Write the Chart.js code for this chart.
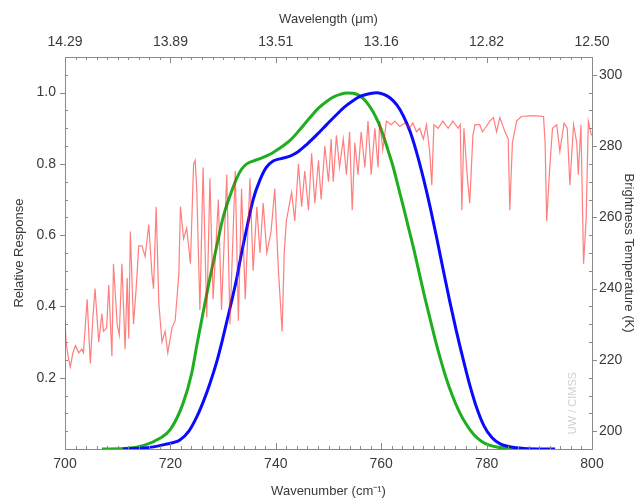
<!DOCTYPE html>
<html>
<head>
<meta charset="utf-8">
<script src="https://cdn.jsdelivr.net/npm/chart.js@4/dist/chart.umd.min.js"></script>
<style>
  html, body { margin: 0; padding: 0; background: #fff; }
  #wrap { width: 643px; height: 501px; }
</style>
</head>
<body>
<div id="wrap"><canvas id="srfChart" width="643" height="501"></canvas></div>
<script>
// ticks
const xTicks = [700, 720, 740, 760, 780, 800];
const wavelengthLabels = ["14.29", "13.89", "13.51", "13.16", "12.82", "12.50"];
const responseTicks = [0.2, 0.4, 0.6, 0.8, 1.0];
const tempTicks = [200, 220, 240, 260, 280, 300];

// green response curve
const greenWn = [707, 712, 715, 718, 720, 722.4, 724, 725, 726.3, 727.5, 728.8, 730, 731.3, 732.6, 733.5, 734.5,
  735.7, 737, 738.9, 740.5, 742.7, 744.5, 746.5, 748, 749.7, 751, 752.2, 753.5, 754.7, 755.7, 756.6, 757.5,
  758.5, 759.5, 760.4, 761.3, 762.3, 763.2, 764.2, 765.2, 766.2, 767.2, 768.2, 769.2, 770.2, 771.2, 772.3,
  773.5, 774.8, 776.2, 777.6, 779, 780.5, 782.5, 785, 787];
const greenResp = [0, 0.002, 0.01, 0.03, 0.055, 0.128, 0.21, 0.29, 0.39, 0.48, 0.57, 0.65, 0.71, 0.76, 0.785, 0.8,
  0.808, 0.815, 0.827, 0.842, 0.866, 0.895, 0.93, 0.955, 0.976, 0.988, 0.995, 0.999, 0.998, 0.993, 0.983, 0.968,
  0.945, 0.915, 0.88, 0.838, 0.79, 0.738, 0.68, 0.62, 0.56, 0.495, 0.43, 0.37, 0.31, 0.255, 0.2,
  0.15, 0.105, 0.068, 0.04, 0.022, 0.011, 0.004, 0.001, 0];

// blue response curve
const blueWn = [711, 714, 716.8, 719, 721.8, 723.5, 725, 726.3, 727.5, 728.8, 730, 731.3, 732.6, 733.5, 734.5,
  735.7, 737, 738.2, 739.5, 741, 742.7, 744.3, 745.9, 747.8, 749.7, 751.3, 752.9, 754.5, 756.1, 757.7, 759.3,
  760.5, 761.7, 763, 764.2, 765.5, 766.7, 768, 769.3, 770.5, 771.8, 773, 774.2, 775.5, 776.8, 778.2, 779.5,
  781, 782.5, 785, 788, 793];
const blueResp = [0, 0.002, 0.006, 0.013, 0.025, 0.05, 0.09, 0.135, 0.184, 0.245, 0.314, 0.395, 0.48, 0.55, 0.62,
  0.7, 0.755, 0.79, 0.808, 0.815, 0.822, 0.835, 0.855, 0.882, 0.911, 0.935, 0.958, 0.976, 0.99, 0.997, 1.0,
  0.995, 0.985, 0.965, 0.935, 0.89, 0.833, 0.76, 0.678, 0.595, 0.5, 0.415, 0.335, 0.255, 0.18, 0.112, 0.065,
  0.032, 0.015, 0.005, 0.001, 0];

// red brightness temperature spectrum (K)
const specWn = [700.0, 700.2, 700.6, 701.0, 701.5, 702.0, 702.6, 703.2, 703.5, 704.2, 704.8, 705.3, 705.7, 706.4,
  707.0, 707.3, 707.9, 708.3, 708.9, 709.2, 709.9, 710.3, 710.8, 711.4, 711.8, 712.1, 712.4, 713.0, 713.5,
  714.0, 714.6, 715.2, 715.9, 716.5, 716.8, 717.3, 717.8, 718.4, 719.0, 719.5, 720.3, 720.9, 721.6, 721.9,
  722.5, 723.1, 723.8, 724.4, 724.7, 725.0, 725.6, 726.2, 726.9, 727.5, 728.1, 729.1, 729.7, 730.7, 731.3,
  732.3, 732.9, 733.5, 734.2, 735.1, 735.7, 736.4, 737.0, 737.6, 738.3, 739.1, 739.8, 740.5, 741.2, 741.6,
  742.0, 743.0, 743.6, 744.3, 744.9, 745.5, 746.2, 746.8, 747.4, 748.1, 748.6, 749.3, 750.0, 750.5, 750.9,
  751.5, 752.1, 752.8, 753.4, 754.0, 754.5, 755.0, 755.6, 756.2, 756.9, 757.5, 758.1, 758.8, 759.4, 759.7,
  760.3, 761.0, 761.9, 762.6, 763.5, 764.5, 765.4, 766.0, 766.7, 767.3, 768.0, 768.6, 769.2, 769.6, 770.0,
  770.8, 771.7, 772.7, 773.6, 774.6, 775.0, 775.3, 775.7, 776.3, 776.8, 777.4, 777.8, 778.7, 779.2, 779.7,
  780.6, 781.3, 781.9, 782.5, 783.5, 784.1, 784.4, 784.9, 785.7, 786.6, 788.0, 789.5, 790.8, 791.1, 791.4,
  791.9, 792.5, 793.3, 793.9, 794.7, 795.3, 795.8, 796.5, 797.1, 797.4, 797.9, 798.4, 798.9, 799.3, 799.9];
const specTemp = [231, 225, 221, 218, 222, 224, 222, 223, 222, 237, 219, 232, 240, 225,
  233, 228, 229, 241, 221, 247, 230, 227, 247, 223, 243, 226, 256, 230, 240,
  252, 252, 249, 258, 244, 240, 263, 236, 225, 228, 222, 229, 231, 244, 263,
  254, 257, 247, 275, 276, 268, 234, 274, 232, 271, 237, 265, 234, 272, 230,
  273, 231, 268, 237, 271, 245, 263, 250, 264, 250, 256, 268, 245, 228, 250,
  259, 267, 259, 275, 263, 273, 262, 278, 264, 276, 265, 280, 270, 282, 270,
  283, 274, 282, 272, 284, 262, 281, 272, 284, 274, 287, 272, 285, 274, 287,
  279, 287, 286, 287, 285.5, 286.5, 285, 286.5, 284, 285, 282, 286, 278.5, 269, 286,
  285, 287, 285, 287, 285, 286, 262, 285, 272, 264, 283, 286, 286, 284, 285,
  287, 288, 284, 288, 284, 282, 262, 281, 287, 288.3, 288.5, 288.5, 288.3, 281, 259,
  272, 285, 286, 278.5, 286.4, 285, 269, 286, 281, 272, 286, 247, 260, 287, 283];

const toPoints = (xs, ys) => xs.map((x, i) => ({ x: x, y: ys[i] }));

// ticks dentro del marco + marca de agua
const framePlugin = {
  id: "frameTicks",
  afterDraw(chart) {
    const { ctx, chartArea: a, scales } = chart;
    ctx.save();
    ctx.strokeStyle = "#8a8a8a";
    ctx.lineWidth = 1;
    ctx.beginPath();
    for (let v = 700; v <= 800; v += 2) {
      const x = Math.round(scales.x.getPixelForValue(v)) + 0.5;
      const len = v % 20 === 0 ? 6 : 3;
      ctx.moveTo(x, a.bottom); ctx.lineTo(x, a.bottom - len);
      ctx.moveTo(x, a.top); ctx.lineTo(x, a.top + len);
    }
    for (let i = 1; i <= 22; i++) {
      const y = Math.round(scales.y.getPixelForValue(i * 0.05)) + 0.5;
      if (i % 4 === 0) {
        ctx.moveTo(a.left, y); ctx.lineTo(a.left - 5, y);
      } else {
        ctx.moveTo(a.left, y); ctx.lineTo(a.left + 3, y);
      }
    }
    for (let t = 195; t <= 305; t += 5) {
      const y = Math.round(scales.y2.getPixelForValue(t)) + 0.5;
      if (t % 20 === 0) {
        ctx.moveTo(a.right, y); ctx.lineTo(a.right + 5, y);
      } else {
        ctx.moveTo(a.right, y); ctx.lineTo(a.right - 3, y);
      }
    }
    ctx.stroke();

    ctx.translate(573, 403);
    ctx.rotate(-Math.PI / 2);
    ctx.fillStyle = "#cfcfcf";
    ctx.font = "11px 'Liberation Sans', Arial, sans-serif";
    ctx.textAlign = "center";
    ctx.textBaseline = "middle";
    ctx.fillText("UW / CIMSS", 0, 0);
    ctx.restore();
  }
};

const tickFont = { family: "'Liberation Sans', Arial, sans-serif", size: 14 };
const titleFont = { family: "'Liberation Sans', Arial, sans-serif", size: 13 };
const border = { display: true, color: "#8a8a8a", width: 1 };

const ctx = document.getElementById("srfChart").getContext("2d");
new Chart(ctx, {
  type: "line",
  data: {
    datasets: [
      {
        label: "Brightness Temperature",
        data: toPoints(specWn, specTemp),
        borderColor: "rgba(255, 20, 20, 0.55)",
        borderWidth: 1.2,
        pointRadius: 0,
        tension: 0,
        yAxisID: "y2"
      },
      {
        label: "SRF 2",
        data: toPoints(blueWn, blueResp),
        borderColor: "#0a0aff",
        borderWidth: 3,
        pointRadius: 0,
        cubicInterpolationMode: "monotone",
        yAxisID: "y"
      },
      {
        label: "SRF 1",
        data: toPoints(greenWn, greenResp),
        borderColor: "#1fae1f",
        borderWidth: 3,
        pointRadius: 0,
        cubicInterpolationMode: "monotone",
        yAxisID: "y"
      }
    ]
  },
  options: {
    responsive: false,
    animation: false,
    layout: { padding: 0 },
    plugins: { legend: { display: false }, tooltip: { enabled: false } },
    scales: {
      x: {
        type: "linear",
        position: "bottom",
        min: 700,
        max: 800,
        afterBuildTicks: s => { s.ticks = xTicks.map(v => ({ value: v })); },
        afterFit: s => { s.height = 52; },
        grid: { display: false, drawTicks: false },
        border: border,
        ticks: { font: tickFont, color: "#3a3a3a", padding: 7, maxRotation: 0, autoSkip: false },
        title: { display: true, text: "Wavenumber (cm⁻¹)", font: titleFont, color: "#3a3a3a", padding: { top: 0, bottom: 2 } }
      },
      x2: {
        type: "linear",
        position: "top",
        min: 700,
        max: 800,
        afterBuildTicks: s => { s.ticks = xTicks.map(v => ({ value: v })); },
        afterFit: s => { s.height = 57; },
        grid: { display: false, drawTicks: false },
        border: border,
        ticks: {
          font: tickFont, color: "#3a3a3a", padding: 6, maxRotation: 0, autoSkip: false,
          callback: (v, i) => wavelengthLabels[i]
        },
        title: { display: true, text: "Wavelength (μm)", font: titleFont, color: "#3a3a3a", padding: { top: 12, bottom: 0 } }
      },
      y: {
        type: "linear",
        position: "left",
        min: 0,
        max: 1.1,
        afterBuildTicks: s => { s.ticks = responseTicks.map(v => ({ value: v })); },
        afterFit: s => { s.width = 65; },
        grid: { display: false, drawTicks: false },
        border: border,
        ticks: { font: tickFont, color: "#3a3a3a", padding: 9, callback: v => v.toFixed(1) },
        title: { display: true, text: "Relative Response", font: titleFont, color: "#3a3a3a", padding: { top: 12, bottom: 0 } }
      },
      y2: {
        type: "linear",
        position: "right",
        min: 195,
        max: 305,
        afterBuildTicks: s => { s.ticks = tempTicks.map(v => ({ value: v })); },
        afterFit: s => { s.width = 51; },
        grid: { display: false, drawTicks: false },
        border: border,
        ticks: { font: tickFont, color: "#3a3a3a", padding: 7 },
        title: { display: true, text: "Brightness Temperature (K)", font: titleFont, color: "#3a3a3a", padding: { top: 7, bottom: 0 } }
      }
    }
  },
  plugins: [framePlugin]
});
</script>
</body>
</html>
